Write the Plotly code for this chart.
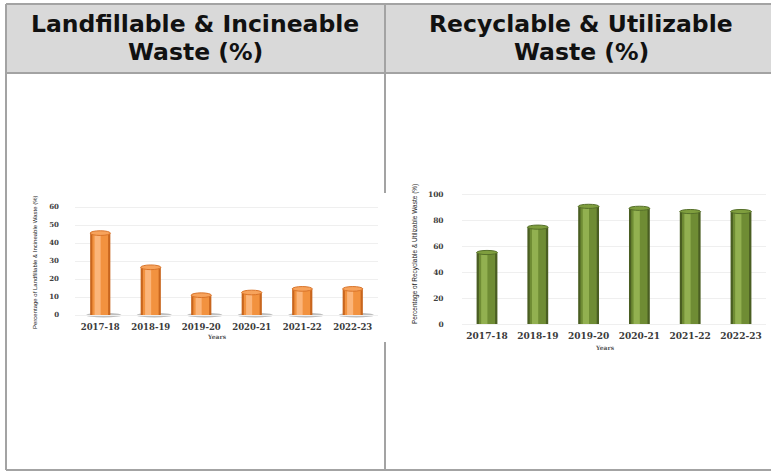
import plotly.graph_objects as go

W, H = 771, 473

years = ["2017-18", "2018-19", "2019-20", "2020-21", "2021-22", "2022-23"]
landfill_pct = [45.5, 26.5, 11, 12.5, 14.5, 14.5]
recycle_pct = [55, 74.5, 90.5, 89, 86.5, 86.5]
landfill_ticks = [0, 10, 20, 30, 40, 50, 60]
recycle_ticks = [0, 20, 40, 60, 80, 100]

header_left = ["Landfillable & Incineable", "Waste (%)"]
header_right = ["Recyclable & Utilizable", "Waste (%)"]
ytitle_left = "Percentage of Landfillable & Incineable Waste (%)"
ytitle_right = "Percentage of Recyclable & Utilizable Waste (%)"
xtitle = "Years"


def px(x):
    return x / W


def py(y):
    return 1 - y / H


fig = go.Figure()

idx = list(range(len(years)))


def add_cylinders(vals, xa, ya, dark, mid, light, width):
    fig.add_trace(go.Bar(x=years, y=vals, width=width, marker=dict(color=dark, line=dict(width=0)),
                         xaxis=xa, yaxis=ya, hoverinfo="x+y"))
    fig.add_trace(go.Bar(x=years, y=vals, width=width * 0.78, marker=dict(color=mid, line=dict(width=0)),
                         xaxis=xa, yaxis=ya, hoverinfo="skip"))
    fig.add_trace(go.Bar(x=years, y=vals, width=width * 0.3, offset=-width * 0.28,
                         marker=dict(color=light, line=dict(width=0)),
                         xaxis=xa, yaxis=ya, hoverinfo="skip"))


# Left chart: orange cylinders
add_cylinders(landfill_pct, "x", "y", "#c8661e", "#f2923f", "#fbb57a", 0.40)
# Right chart: green cylinders
add_cylinders(recycle_pct, "x2", "y2", "#4a5e22", "#6f8c34", "#92b050", 0.41)

shapes = []
# base shadows and top ellipses
for i, v in zip(idx, landfill_pct):
    shapes.append(dict(type="circle", xref="x", yref="y", x0=i - 0.28, x1=i + 0.42, y0=-1.4, y1=1.2,
                       fillcolor="rgba(110,110,110,0.45)", line=dict(width=0), layer="below"))
    shapes.append(dict(type="circle", xref="x", yref="y", x0=i - 0.2, x1=i + 0.2, y0=v - 1.3, y1=v + 1.3,
                       fillcolor="#f7a35c", line=dict(color="#d9742a", width=1)))
for i, v in zip(idx, recycle_pct):
    shapes.append(dict(type="circle", xref="x2", yref="y2", x0=i - 0.205, x1=i + 0.205, y0=v - 1.6, y1=v + 1.6,
                       fillcolor="#7f9e3e", line=dict(color="#56702a", width=1)))

# table
border = "#a3a3a3"
shapes.append(dict(type="rect", xref="paper", yref="paper", x0=px(6), x1=px(775), y0=py(73), y1=py(4),
                   fillcolor="#d9d9d9", line=dict(width=0), layer="below"))
for (x0, y0, x1, y1) in [(6, 4, 775, 4), (6, 73, 775, 73), (6, 470, 775, 470), (6, 4, 6, 470),
                         (385, 4, 385, 193), (385, 342, 385, 470)]:
    shapes.append(dict(type="line", xref="paper", yref="paper", x0=px(x0), x1=px(x1), y0=py(y0), y1=py(y1),
                       line=dict(color=border, width=2), layer="below"))

annotations = []
hfont = dict(family="DejaVu Sans, Verdana, sans-serif", size=23.5, color="#111111", weight="bold")
for cx, lines in [(195, header_left), (581, header_right)]:
    for yy, t in zip([24, 52], lines):
        annotations.append(dict(text=t, x=px(cx), y=py(yy), xref="paper", yref="paper", showarrow=False,
                                xanchor="center", yanchor="middle", font=hfont))

tfont = dict(family="Liberation Sans Narrow, Arial Narrow, Liberation Sans, sans-serif", size=6, color="#1a1a1a")
annotations.append(dict(text=ytitle_left, x=px(35), y=py(262), xref="paper", yref="paper", showarrow=False,
                        textangle=-90, font=tfont, xanchor="center", yanchor="middle"))
annotations.append(dict(text=ytitle_right, x=px(415), y=py(254), xref="paper", yref="paper", showarrow=False,
                        textangle=-90, font=dict(tfont, size=6.5), xanchor="center", yanchor="middle"))
yfont = dict(family="DejaVu Serif, serif", size=6, color="#555555", weight="bold")
annotations.append(dict(text=xtitle, x=px(217), y=py(336), xref="paper", yref="paper", showarrow=False,
                        font=yfont, xanchor="center", yanchor="middle"))
annotations.append(dict(text=xtitle, x=px(605), y=py(347), xref="paper", yref="paper", showarrow=False,
                        font=yfont, xanchor="center", yanchor="middle"))

xtick_font = dict(family="DejaVu Serif, serif", size=8.5, color="#3a3a3a", weight="bold")
ytick_font = dict(family="DejaVu Serif, serif", size=7, color="#404040", weight="bold")
grid = "#efefef"

fig.update_layout(
    width=W, height=H, margin=dict(l=0, r=0, t=0, b=0),
    paper_bgcolor="white", plot_bgcolor="rgba(0,0,0,0)",
    barmode="overlay", showlegend=False, bargap=0.6,
    shapes=shapes, annotations=annotations,
    xaxis=dict(domain=[px(75), px(378)], anchor="y", showgrid=False, zeroline=False, showline=False,
               tickfont=xtick_font, ticks="", fixedrange=True),
    yaxis=dict(domain=[py(320.4), py(203.4)], anchor="x", range=[-3, 62], tickvals=landfill_ticks,
               showgrid=True, gridcolor=grid, gridwidth=1, zeroline=False, showline=False,
               tickfont=ytick_font, ticklabelstandoff=15, fixedrange=True),
    xaxis2=dict(domain=[px(461.6), px(766.4)], anchor="y2", showgrid=False, zeroline=False, showline=False,
                tickfont=dict(xtick_font, size=9), ticks="", fixedrange=True),
    yaxis2=dict(domain=[py(329.2), py(188.8)], anchor="x2", range=[-4, 104], tickvals=recycle_ticks,
                showgrid=True, gridcolor=grid, gridwidth=1, zeroline=False, showline=False,
                tickfont=dict(ytick_font, size=7.5), ticklabelstandoff=17, fixedrange=True),
)

fig.write_html("out.html")
